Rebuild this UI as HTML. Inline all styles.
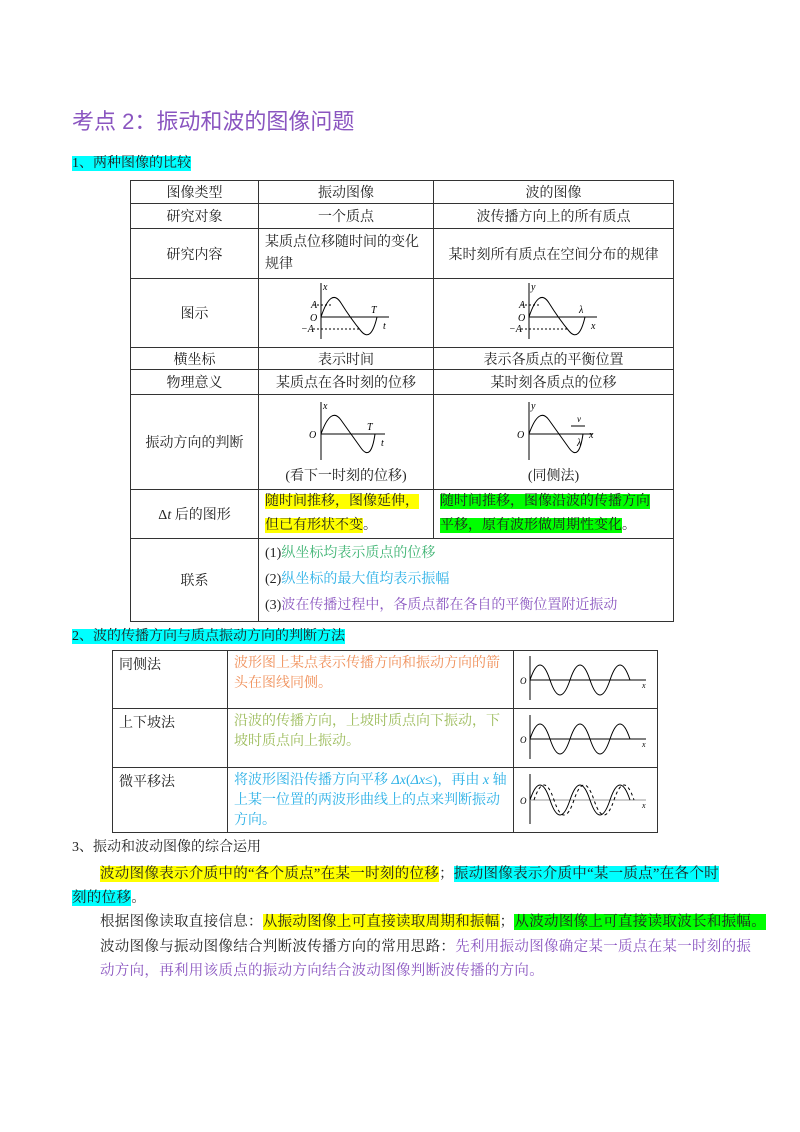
<!DOCTYPE html>
<html><head><meta charset="utf-8"><style>
body{margin:0;width:800px;height:1132px;background:#fff;position:relative;font-family:"Liberation Serif","Noto Serif CJK SC",serif;color:#222;overflow:hidden}
.a{position:absolute;white-space:nowrap}
.t{font-size:14px}
.hl{background:#00ffff}.y{background:#ffff00}.g{background:#00ff00}
table{position:absolute;border-collapse:collapse;font-size:14px}
td{border:1px solid #333;padding:0 6px;vertical-align:middle}
.c{text-align:center}
.p{font-size:14.5px;letter-spacing:0.3px}
svg text{font-family:"Liberation Serif",serif;font-style:italic}
</style></head><body>
<div class="a" style="left:72px;top:104px;font-size:22px;color:#8a55c0;font-family:'Liberation Sans','Noto Sans CJK SC',sans-serif">考点 2：振动和波的图像问题</div>
<div class="a t" style="left:72px;top:152px"><span class="hl">1、两种图像的比较</span></div>

<table style="left:130px;top:180px;width:544px">
<tr style="height:23px"><td class="c" style="width:115px">图像类型</td><td class="c" style="width:162px">振动图像</td><td class="c">波的图像</td></tr>
<tr style="height:25px"><td class="c">研究对象</td><td class="c">一个质点</td><td class="c">波传播方向上的所有质点</td></tr>
<tr style="height:50px"><td class="c">研究内容</td><td style="line-height:22px">某质点位移随时间的变化<br>规律</td><td class="c">某时刻所有质点在空间分布的规律</td></tr>
<tr style="height:69px"><td class="c">图示</td><td class="c"><svg width="90" height="60" viewBox="0 0 90 60">
<line x1="20" y1="2" x2="20" y2="58" stroke="#000"/><line x1="20" y1="36" x2="88" y2="36" stroke="#000"/>
<path d="M20 36 Q30 6 40 22 T60 50 T76 36" fill="none" stroke="#000"/>
<line x1="12" y1="24" x2="30" y2="24" stroke="#000" stroke-dasharray="2"/><line x1="12" y1="48" x2="60" y2="48" stroke="#000" stroke-dasharray="2"/>
<text x="22" y="9" font-size="10">x</text><text x="10" y="27" font-size="10">A</text><text x="9" y="40" font-size="10">O</text><text x="0" y="51" font-size="10">−A</text><text x="70" y="32" font-size="10">T</text><text x="82" y="48" font-size="10">t</text></svg></td>
<td class="c"><svg width="90" height="60" viewBox="0 0 90 60">
<line x1="20" y1="2" x2="20" y2="58" stroke="#000"/><line x1="20" y1="36" x2="88" y2="36" stroke="#000"/>
<path d="M20 36 Q30 6 40 22 T60 50 T76 36" fill="none" stroke="#000"/>
<line x1="12" y1="24" x2="30" y2="24" stroke="#000" stroke-dasharray="2"/><line x1="12" y1="48" x2="60" y2="48" stroke="#000" stroke-dasharray="2"/>
<text x="22" y="9" font-size="10">y</text><text x="10" y="27" font-size="10">A</text><text x="9" y="40" font-size="10">O</text><text x="0" y="51" font-size="10">−A</text><text x="70" y="32" font-size="10">λ</text><text x="82" y="48" font-size="10">x</text></svg></td></tr>
<tr style="height:22px"><td class="c">横坐标</td><td class="c">表示时间</td><td class="c">表示各质点的平衡位置</td></tr>
<tr style="height:25px"><td class="c">物理意义</td><td class="c">某质点在各时刻的位移</td><td class="c">某时刻各质点的位移</td></tr>
<tr style="height:95px"><td class="c">振动方向的判断</td><td class="c"><svg width="90" height="60" viewBox="0 0 90 60">
<line x1="20" y1="2" x2="20" y2="60" stroke="#000"/><line x1="20" y1="34" x2="84" y2="34" stroke="#000"/>
<path d="M20 34 Q30 6 40 20 T60 48 T74 34" fill="none" stroke="#000"/>
<text x="22" y="9" font-size="10">x</text><text x="8" y="38" font-size="10">O</text><text x="66" y="30" font-size="10">T</text><text x="80" y="46" font-size="10">t</text></svg><br>(看下一时刻的位移)</td>
<td class="c"><svg width="90" height="60" viewBox="0 0 90 60">
<line x1="20" y1="2" x2="20" y2="60" stroke="#000"/><line x1="20" y1="34" x2="84" y2="34" stroke="#000"/>
<path d="M20 34 Q30 6 40 20 T60 48 T74 34" fill="none" stroke="#000"/><line x1="62" y1="26" x2="76" y2="26" stroke="#000"/>
<text x="22" y="9" font-size="10">y</text><text x="8" y="38" font-size="10">O</text><text x="68" y="22" font-size="9">v</text><text x="68" y="46" font-size="10">λ</text><text x="80" y="38" font-size="10">x</text></svg><br>(同侧法)</td></tr>
<tr style="height:49px"><td class="c">Δ<i>t</i> 后的图形</td><td style="line-height:24px"><span class="y">随时间推移，图像延伸，<br>但已有形状不变</span>。</td><td style="line-height:24px"><span class="g">随时间推移，图像沿波的传播方向<br>平移，原有波形做周期性变化</span>。</td></tr>
<tr style="height:83px"><td class="c">联系</td><td colspan="2" style="line-height:26px">(1)<span style="color:#3cb371">纵坐标均表示质点的位移</span><br>(2)<span style="color:#2ab0e6">纵坐标的最大值均表示振幅</span><br>(3)<span style="color:#8a55c0">波在传播过程中，各质点都在各自的平衡位置附近振动</span></td></tr>
</table>

<div class="a t" style="left:72px;top:625px"><span class="hl">2、波的传播方向与质点振动方向的判断方法</span></div>

<table style="left:112px;top:650px;width:546px">
<tr style="height:58px"><td style="width:102px;vertical-align:top;padding-top:3px">同侧法</td><td style="width:273px;vertical-align:top;line-height:20px;color:#f0905a;padding-top:3px">波形图上某点表示传播方向和振动方向的箭头在图线同侧。</td><td><svg width="128" height="50" viewBox="0 0 128 50"><line x1="10" y1="4" x2="10" y2="48" stroke="#000"/><line x1="10" y1="28" x2="126" y2="28" stroke="#000"/><path d="M10 28 Q20 -2 30 28 T50 28 T70 28 T90 28 T110 28" fill="none" stroke="#000"/><text x="0" y="32" font-size="9">O</text><text x="122" y="36" font-size="8">x</text></svg></td></tr>
<tr style="height:59px"><td style="vertical-align:top;padding-top:3px">上下坡法</td><td style="vertical-align:top;line-height:20px;color:#9bbb59;padding-top:3px">沿波的传播方向，上坡时质点向下振动，下坡时质点向上振动。</td><td><svg width="128" height="50" viewBox="0 0 128 50"><line x1="10" y1="4" x2="10" y2="48" stroke="#000"/><line x1="10" y1="28" x2="126" y2="28" stroke="#000"/><path d="M10 28 Q20 -2 30 28 T50 28 T70 28 T90 28 T110 28" fill="none" stroke="#000"/><text x="0" y="32" font-size="9">O</text><text x="122" y="36" font-size="8">x</text></svg></td></tr>
<tr style="height:65px"><td style="vertical-align:top;padding-top:3px">微平移法</td><td style="vertical-align:top;line-height:20px;color:#2ab0e6;padding-top:3px">将波形图沿传播方向平移 <i>Δx</i>(<i>Δx</i>≤)，再由 <i>x</i> 轴上某一位置的两波形曲线上的点来判断振动方向。</td><td><svg width="128" height="56" viewBox="0 0 128 56"><line x1="10" y1="4" x2="10" y2="54" stroke="#000"/><line x1="10" y1="30" x2="126" y2="30" stroke="#999"/><path d="M10 30 Q20 0 30 30 T50 30 T70 30 T90 30 T110 30" fill="none" stroke="#000"/><path d="M14 30 Q24 0 34 30 T54 30 T74 30 T94 30 T114 30" fill="none" stroke="#000" stroke-dasharray="3"/><text x="0" y="34" font-size="9">O</text><text x="122" y="38" font-size="8">x</text></svg></td></tr>
</table>

<div class="a t" style="left:72px;top:836px">3、振动和波动图像的综合运用</div>
<div class="a p" style="left:100px;top:862px"><span class="y">波动图像表示介质中的“各个质点”在某一时刻的位移</span>；<span class="hl">振动图像表示介质中“某一质点”在各个时</span></div>
<div class="a p" style="left:72px;top:886px"><span class="hl">刻的位移</span>。</div>
<div class="a p" style="left:100px;top:910px">根据图像读取直接信息：<span class="y">从振动图像上可直接读取周期和振幅</span>；<span class="g">从波动图像上可直接读取波长和振幅。</span></div>
<div class="a p" style="left:100px;top:935px">波动图像与振动图像结合判断波传播方向的常用思路：<span style="color:#8a55c0">先利用振动图像确定某一质点在某一时刻的振</span></div>
<div class="a p" style="left:100px;top:959px;color:#8a55c0">动方向，再利用该质点的振动方向结合波动图像判断波传播的方向。</div>
</body></html>
